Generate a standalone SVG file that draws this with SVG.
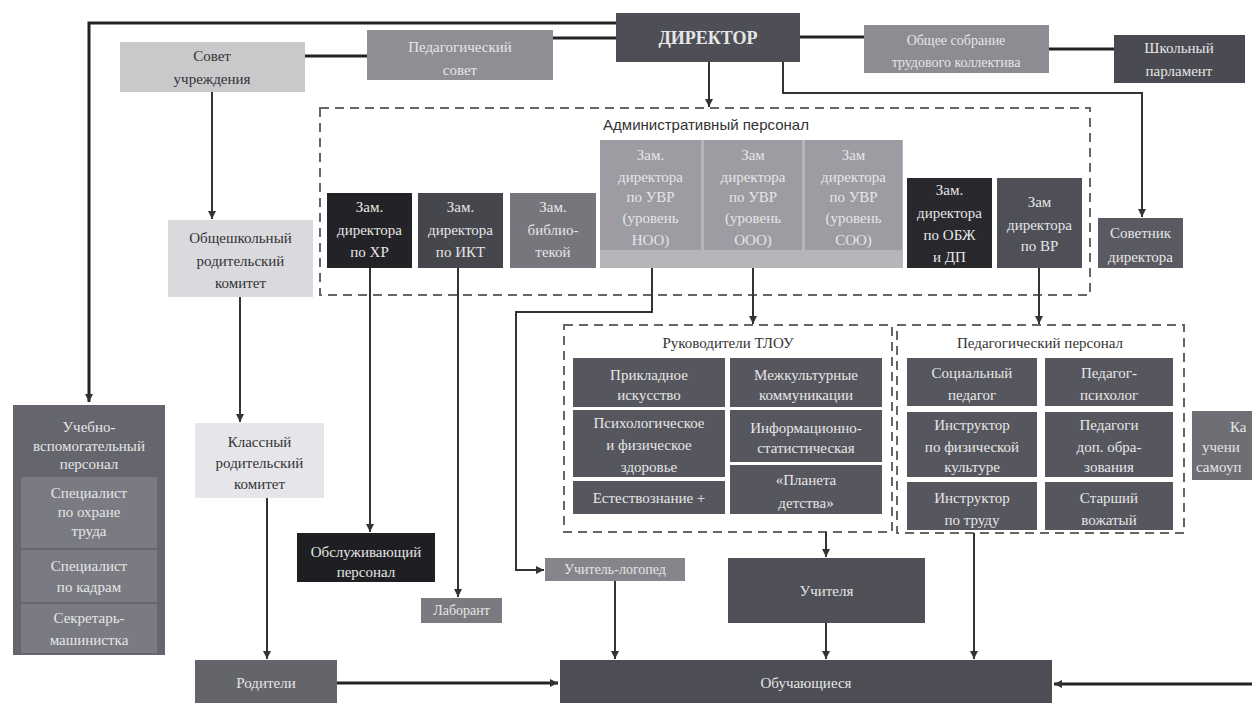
<svg xmlns="http://www.w3.org/2000/svg" width="1252" height="703" viewBox="0 0 1252 703">
<defs>
<marker id="arr" markerUnits="userSpaceOnUse" markerWidth="9" markerHeight="9" refX="8" refY="4" orient="auto">
<path d="M0,0 L8,4 L0,8 z" fill="#333"/>
</marker>
<style>
.t{font-family:"Liberation Serif","Times New Roman",serif;font-size:15px;fill:#e6e6e6;text-anchor:middle}
.d{fill:#333}
.s{font-family:"Liberation Sans",Arial,sans-serif;font-size:15px;fill:#333;text-anchor:middle}
.dash{fill:#fff;stroke:#666;stroke-width:2;stroke-dasharray:9 6}
.ln{fill:none;stroke:#333;stroke-width:2}
.lnb{fill:none;stroke:#222;stroke-width:3}
.dk{fill:#56565e}
</style>
</defs>
<rect width="1252" height="703" fill="#ffffff"/>

<g id="containers">
<rect id="admin-box" class="dash" x="320" y="108" width="770" height="187"/>
<rect id="tlou-box" class="dash" x="564" y="325" width="328" height="207"/>
<rect id="ped-box" class="dash" x="897" y="325" width="287" height="208"/>
</g>

<g id="connectors">
<path class="lnb" d="M616,23 H89 V402" marker-end="url(#arr)"/>
<path class="lnb" d="M305,56 H367"/>
<path class="lnb" d="M553,38 H616"/>
<path class="lnb" d="M800,37 H864"/>
<path class="lnb" d="M1049,49 H1114"/>
<path class="ln" d="M709,62 V107" marker-end="url(#arr)"/>
<path class="ln" d="M783,62 V93 H1142 V217" marker-end="url(#arr)"/>
<path class="ln" d="M212,92 V219" marker-end="url(#arr)"/>
<path class="ln" d="M240,297 V422" marker-end="url(#arr)"/>
<path class="ln" d="M267,498 V659" marker-end="url(#arr)"/>
<path class="ln" d="M370,268 V532" marker-end="url(#arr)"/>
<path class="ln" d="M458,268 V597" marker-end="url(#arr)"/>
<path class="ln" d="M652,268 V312 H516 V570 H544" marker-end="url(#arr)"/>
<path class="ln" d="M753,268 V324" marker-end="url(#arr)"/>
<path class="ln" d="M1039,268 V324" marker-end="url(#arr)"/>
<path class="ln" d="M826,532 V557" marker-end="url(#arr)"/>
<path class="ln" d="M974,533 V659" marker-end="url(#arr)"/>
<path class="ln" d="M826,623 V659" marker-end="url(#arr)"/>
<path class="ln" d="M615,581 V659" marker-end="url(#arr)"/>
<path class="lnb" d="M337,683 H558" marker-end="url(#arr)"/>
<path class="lnb" d="M1252,684 H1054" marker-end="url(#arr)"/>
</g>

<g id="sovet-uchr">
<rect x="120" y="42" width="185" height="50" fill="#c9c9cb"/>
<text class="t d" x="212" y="61">Совет</text>
<text class="t d" x="212" y="84">учреждения</text>
</g>

<g id="ped-sovet">
<rect x="367" y="30" width="186" height="50" fill="#8e8e93"/>
<text class="t" x="460" y="52" fill="#dcdcdc">Педагогический</text>
<text class="t" x="460" y="75">совет</text>
</g>

<g id="director">
<rect x="616" y="13" width="184" height="49" fill="#4e4e56"/>
<text class="t" x="708" y="44" style="font-size:18px;font-weight:bold">ДИРЕКТОР</text>
</g>

<g id="obshee-sobranie">
<rect x="864" y="25" width="185" height="48" fill="#8c8c92"/>
<text class="t" x="956" y="45" style="font-size:14px">Общее собрание</text>
<text class="t" x="956" y="67" style="font-size:14px">трудового коллектива</text>
</g>

<g id="shk-parlament">
<rect x="1114" y="35" width="131" height="48" fill="#4a4a52"/>
<text class="t" x="1179" y="53">Школьный</text>
<text class="t" x="1179" y="76">парламент</text>
</g>

<g id="admin-title">
<text class="s" x="706" y="130">Административный персонал</text>
</g>

<g id="zam-hr">
<rect x="327" y="193" width="85" height="75" fill="#232327"/>
<text class="t" x="369.5" y="212">Зам.</text>
<text class="t" x="369.5" y="235">директора</text>
<text class="t" x="369.5" y="257">по ХР</text>
</g>

<g id="zam-ikt">
<rect x="418" y="193" width="85" height="75" fill="#46464d"/>
<text class="t" x="460.5" y="212">Зам.</text>
<text class="t" x="460.5" y="235">директора</text>
<text class="t" x="460.5" y="257">по ИКТ</text>
</g>

<g id="zam-bibl">
<rect x="510" y="193" width="86" height="75" fill="#76767c"/>
<text class="t" x="553" y="212">Зам.</text>
<text class="t" x="553" y="235">библио-</text>
<text class="t" x="553" y="257">текой</text>
</g>

<g id="uvr-group">
<rect x="600" y="140" width="303" height="128" fill="#b5b5ba"/>
<g id="zam-uvr-noo">
<rect x="600" y="140" width="101" height="110" fill="#9c9ca2"/>
<text class="t" x="650.5" y="160">Зам.</text>
<text class="t" x="650.5" y="182">директора</text>
<text class="t" x="650.5" y="202">по УВР</text>
<text class="t" x="650.5" y="223">(уровень</text>
<text class="t" x="650.5" y="245">НОО)</text>
</g>
<g id="zam-uvr-ooo">
<rect x="704" y="140" width="98" height="110" fill="#9c9ca2"/>
<text class="t" x="753" y="160">Зам</text>
<text class="t" x="753" y="182">директора</text>
<text class="t" x="753" y="202">по УВР</text>
<text class="t" x="753" y="223">(уровень</text>
<text class="t" x="753" y="245">ООО)</text>
</g>
<g id="zam-uvr-soo">
<rect x="805" y="140" width="97" height="110" fill="#9c9ca2"/>
<text class="t" x="853.5" y="160">Зам</text>
<text class="t" x="853.5" y="182">директора</text>
<text class="t" x="853.5" y="202">по УВР</text>
<text class="t" x="853.5" y="223">(уровень</text>
<text class="t" x="853.5" y="245">СОО)</text>
</g>
</g>

<g id="zam-obzh">
<rect x="907" y="178" width="85" height="90" fill="#28282d"/>
<text class="t" x="949.5" y="195">Зам.</text>
<text class="t" x="949.5" y="218">директора</text>
<text class="t" x="949.5" y="240">по ОБЖ</text>
<text class="t" x="949.5" y="262">и ДП</text>
</g>

<g id="zam-vr">
<rect x="997" y="178" width="85" height="90" fill="#4f4f57"/>
<text class="t" x="1039.5" y="207">Зам</text>
<text class="t" x="1039.5" y="230">директора</text>
<text class="t" x="1039.5" y="251">по ВР</text>
</g>

<g id="sovetnik">
<rect x="1098" y="218" width="85" height="50" fill="#5a5a62"/>
<text class="t" x="1140.5" y="238">Советник</text>
<text class="t" x="1140.5" y="262">директора</text>
</g>

<g id="obshkol-komitet">
<rect x="168" y="220" width="145" height="77" fill="#dadade"/>
<text class="t d" x="240.5" y="243">Общешкольный</text>
<text class="t d" x="240.5" y="266">родительский</text>
<text class="t d" x="240.5" y="288">комитет</text>
</g>

<g id="klass-komitet">
<rect x="195" y="423" width="129" height="75" fill="#e6e6ea"/>
<text class="t d" x="259.5" y="447">Классный</text>
<text class="t d" x="259.5" y="468">родительский</text>
<text class="t d" x="259.5" y="489">комитет</text>
</g>

<g id="uchebno-vspom">
<rect x="13" y="405" width="152" height="250" fill="#65656d"/>
<text class="t" x="89" y="432">Учебно-</text>
<text class="t" x="89" y="451">вспомогательный</text>
<text class="t" x="89" y="469">персонал</text>
<g id="spec-ohrana">
<rect x="21" y="477" width="136" height="71" fill="#7a7a82"/>
<text class="t" x="89" y="498">Специалист</text>
<text class="t" x="89" y="517">по охране</text>
<text class="t" x="89" y="536">труда</text>
</g>
<g id="spec-kadry">
<rect x="21" y="550" width="136" height="52" fill="#7a7a82"/>
<text class="t" x="89" y="571">Специалист</text>
<text class="t" x="89" y="592">по кадрам</text>
</g>
<g id="sekretar">
<rect x="21" y="604" width="136" height="49" fill="#7a7a82"/>
<text class="t" x="89" y="623">Секретарь-</text>
<text class="t" x="89" y="645">машинистка</text>
</g>
</g>

<g id="tlou">
<text class="t d" x="728" y="348">Руководители ТЛОУ</text>
<g id="prikladnoe"><rect class="dk" x="573" y="358" width="152" height="49"/>
<text class="t" x="649" y="380">Прикладное</text><text class="t" x="649" y="400">искусство</text></g>
<g id="mezhkult"><rect class="dk" x="730" y="358" width="152" height="49"/>
<text class="t" x="806" y="380">Межкультурные</text><text class="t" x="806" y="400">коммуникации</text></g>
<g id="psiholog"><rect class="dk" x="573" y="410" width="152" height="67"/>
<text class="t" x="649" y="428">Психологическое</text><text class="t" x="649" y="450">и физическое</text><text class="t" x="649" y="472">здоровье</text></g>
<g id="inform"><rect class="dk" x="730" y="410" width="152" height="52"/>
<text class="t" x="806" y="433">Информационно-</text><text class="t" x="806" y="453">статистическая</text></g>
<g id="estestv"><rect class="dk" x="573" y="481" width="152" height="33"/>
<text class="t" x="649" y="503">Естествознание +</text></g>
<g id="planeta"><rect class="dk" x="730" y="465" width="152" height="49"/>
<text class="t" x="806" y="485">«Планета</text><text class="t" x="806" y="508">детства»</text></g>
</g>

<g id="ped-personal">
<text class="t d" x="1040" y="348">Педагогический персонал</text>
<g id="soc-ped"><rect class="dk" x="907" y="358" width="130" height="48"/>
<text class="t" x="972" y="378">Социальный</text><text class="t" x="972" y="400">педагог</text></g>
<g id="ped-psih"><rect class="dk" x="1045" y="358" width="128" height="48"/>
<text class="t" x="1109" y="378">Педагог-</text><text class="t" x="1109" y="400">психолог</text></g>
<g id="instr-fiz"><rect class="dk" x="907" y="412" width="130" height="65"/>
<text class="t" x="972" y="430">Инструктор</text><text class="t" x="972" y="452">по физической</text><text class="t" x="972" y="472">культуре</text></g>
<g id="ped-dop"><rect class="dk" x="1045" y="412" width="128" height="65"/>
<text class="t" x="1109" y="430">Педагоги</text><text class="t" x="1109" y="452">доп. обра-</text><text class="t" x="1109" y="472">зования</text></g>
<g id="instr-trud"><rect class="dk" x="907" y="482" width="130" height="48"/>
<text class="t" x="972" y="503">Инструктор</text><text class="t" x="972" y="525">по труду</text></g>
<g id="starsh-vozh"><rect class="dk" x="1045" y="482" width="128" height="48"/>
<text class="t" x="1109" y="503">Старший</text><text class="t" x="1109" y="525">вожатый</text></g>
</g>

<g id="cut-box">
<rect x="1192" y="411" width="70" height="69" fill="#6e6e74"/>
<text class="t" x="1230" y="432" style="text-anchor:start">Ка</text>
<text class="t" x="1202" y="452" style="text-anchor:start">учени</text>
<text class="t" x="1196" y="472" style="text-anchor:start">самоуп</text>
</g>

<g id="obsluzh">
<rect x="297" y="533" width="138" height="49" fill="#1f1f23"/>
<text class="t" x="366" y="557">Обслуживающий</text>
<text class="t" x="366" y="577">персонал</text>
</g>

<g id="laborant">
<rect x="421" y="598" width="81" height="25" fill="#7a7a80"/>
<text class="t" x="461.5" y="615" style="font-size:14px">Лаборант</text>
</g>

<g id="logoped">
<rect x="545" y="558" width="140" height="23" fill="#85858b"/>
<text class="t" x="615" y="574" style="font-size:14px">Учитель-логопед</text>
</g>

<g id="uchitelya">
<rect x="728" y="558" width="197" height="65" fill="#4f4f57"/>
<text class="t" x="826.5" y="596">Учителя</text>
</g>

<g id="roditeli">
<rect x="195" y="660" width="142" height="43" fill="#64646b"/>
<text class="t" x="266" y="688">Родители</text>
</g>

<g id="obuchayushiesya">
<rect x="560" y="660" width="492" height="43" fill="#4d4d55"/>
<text class="t" x="806" y="688">Обучающиеся</text>
</g>
</svg>
